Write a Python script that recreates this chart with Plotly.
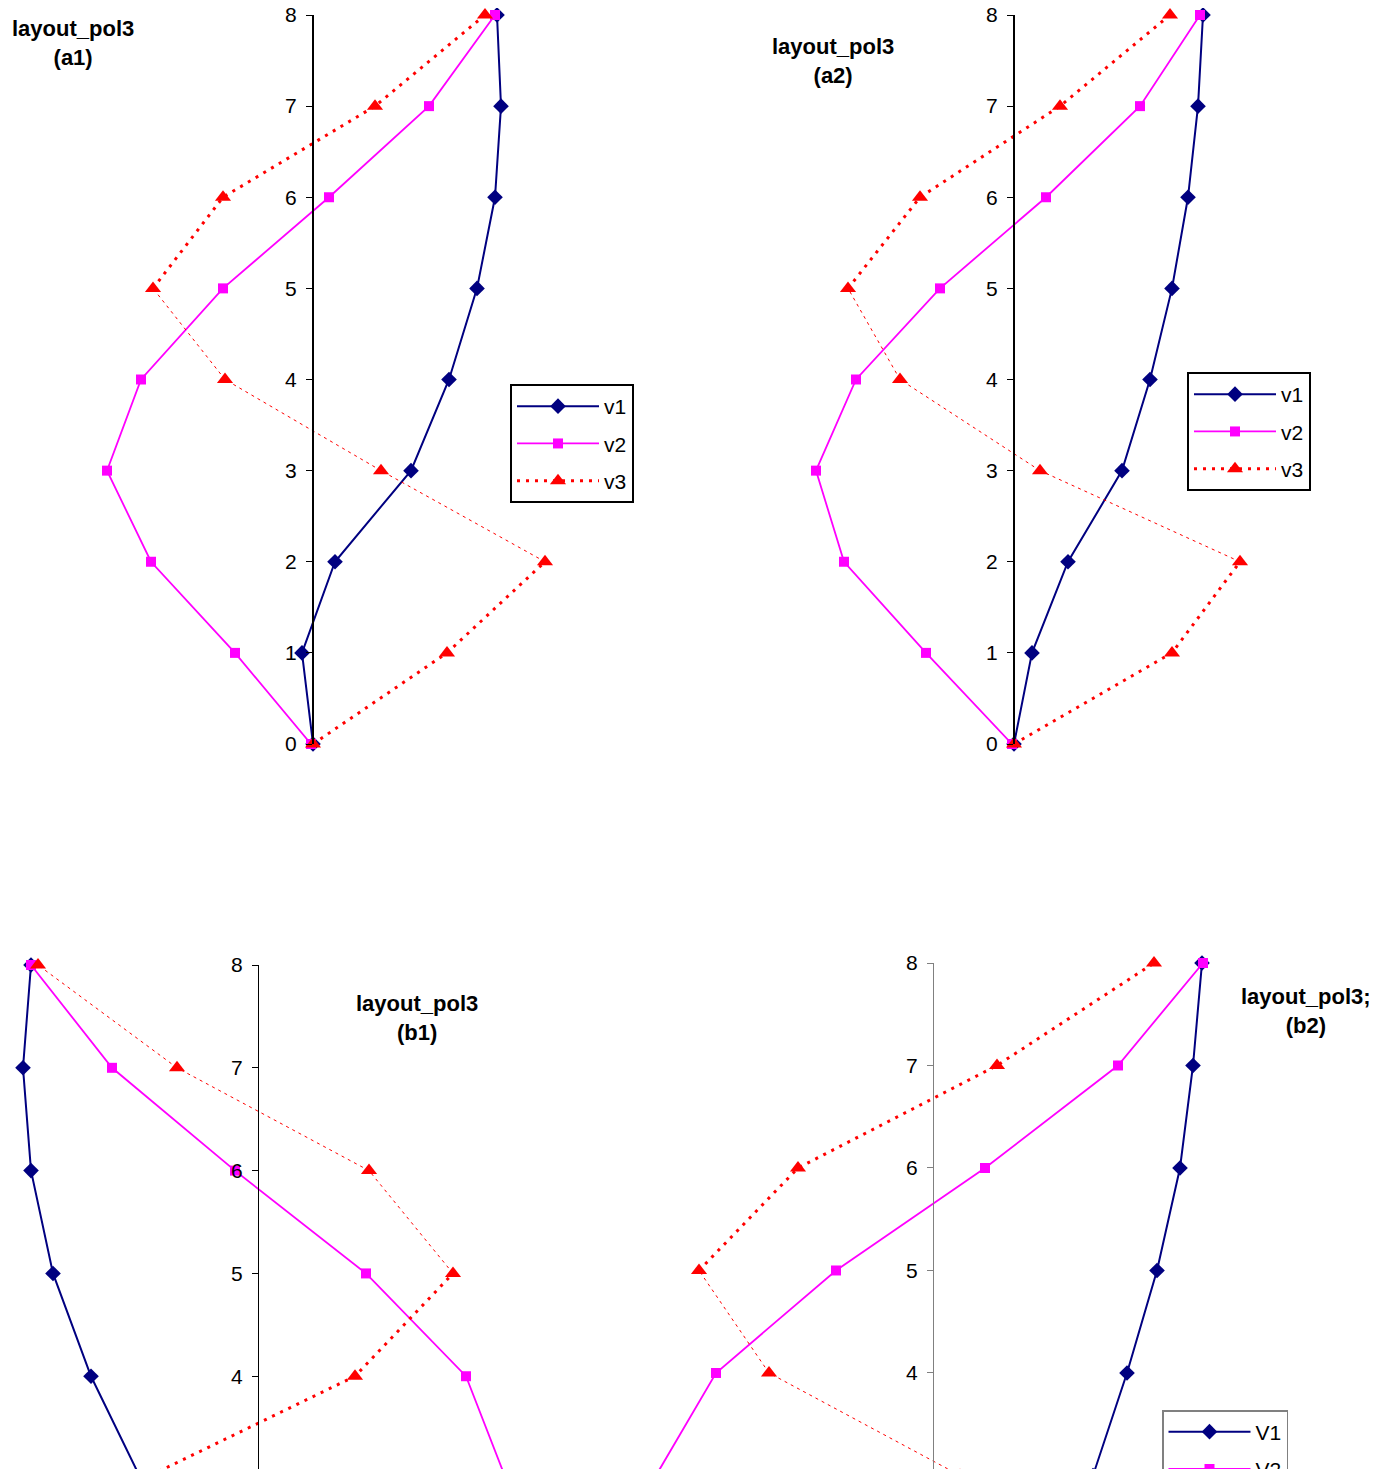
import plotly.graph_objects as go

# depth levels (vertical axis)
levels = [0, 1, 2, 3, 4, 5, 6, 7, 8]

# panel a1
a1_v1 = [0.00, -0.11, 0.22, 0.98, 1.36, 1.64, 1.82, 1.88, 1.84]
a1_v2 = [-0.02, -0.78, -1.62, -2.06, -1.72, -0.90, 0.16, 1.16, 1.82]
a1_v3 = [0.00, 1.34, 2.32, 0.68, -0.88, -1.60, -0.90, 0.62, 1.72]

# panel a2
a2_v1 = [0.00, 0.18, 0.54, 1.08, 1.36, 1.58, 1.74, 1.84, 1.89]
a2_v2 = [-0.02, -0.88, -1.70, -1.98, -1.58, -0.74, 0.32, 1.26, 1.86]
a2_v3 = [0.00, 1.58, 2.26, 0.26, -1.14, -1.66, -0.94, 0.46, 1.56]

# panel b1
b1_v1 = [0.00, -0.35, -0.80, -1.17, -1.67, -2.05, -2.27, -2.35, -2.27]
b1_v2 = [0.00, 1.20, 2.10, 2.48, 2.08, 1.08, -0.23, -1.46, -2.27]
b1_v3 = [0.00, -1.30, -2.00, -1.15, 0.97, 1.95, 1.11, -0.81, -2.20]

# panel b2
b2_v1 = [0.00, 0.45, 1.05, 1.60, 1.94, 2.24, 2.47, 2.60, 2.69]
b2_v2 = [0.00, -1.30, -2.45, -2.77, -2.17, -0.97, 0.52, 1.85, 2.70]
b2_v3 = [0.00, 1.60, 2.40, 0.27, -1.64, -2.34, -1.35, 0.64, 2.21]

series_names = ["v1", "v2", "v3"]
series_names_b2 = ["V1", "V2", "V3"]

W, H = 1377, 1469
OFF = 8  # page body margin
FONT = "Liberation Sans, Arial, sans-serif"


def fx(p):
    return (p - OFF) / W


def fy(p):
    return 1 - (p - OFF) / H


# per panel: data, axis pixel column, y domain, y range, thin segments of v3, legend
panels = [
    dict(s=(a1_v1, a1_v2, a1_v3), axpx=313, dom=[fy(744), fy(15)], rng=[0, 8],
         thin=[2, 3, 4], legend="legend", names=series_names, lw=2, lc="black"),
    dict(s=(a2_v1, a2_v2, a2_v3), axpx=1014, dom=[fy(744), fy(15)], rng=[0, 8],
         thin=[2, 3, 4], legend="legend2", names=series_names, lw=2, lc="black"),
    dict(s=(b1_v1, b1_v2, b1_v3), axpx=258, dom=[0, fy(965)], rng=[3.02, 8],
         thin=[5, 6, 7], legend=None, names=series_names, lw=1, lc="black"),
    dict(s=(b2_v1, b2_v2, b2_v3), axpx=933, dom=[0, fy(963)], rng=[2.985, 8],
         thin=[3, 4], legend="legend3", names=series_names_b2, lw=1, lc="#808080"),
]

fig = go.Figure()

for k, p in enumerate(panels):
    n = "" if k == 0 else str(k + 1)
    xa, ya = "x" + n, "y" + n
    v1, v2, v3 = p["s"]
    show = p["legend"] is not None
    leg = p["legend"] or "legend"

    fig.add_trace(go.Scatter(
        x=v1, y=levels, xaxis=xa, yaxis=ya, name=p["names"][0], mode="lines+markers",
        line=dict(color="#000080", width=2),
        marker=dict(symbol="diamond", size=12, color="#000080"),
        showlegend=show, legend=leg, legendgroup=f"{k}a", cliponaxis=False))
    fig.add_trace(go.Scatter(
        x=v2, y=levels, xaxis=xa, yaxis=ya, name=p["names"][1], mode="lines+markers",
        line=dict(color="#FF00FF", width=1.8),
        marker=dict(symbol="square", size=10, color="#FF00FF"),
        showlegend=show, legend=leg, legendgroup=f"{k}b", cliponaxis=False))

    # thin dashed pieces of v3
    tx, ty = [], []
    for i in p["thin"]:
        tx += [v3[i], v3[i + 1], None]
        ty += [levels[i], levels[i + 1], None]
    fig.add_trace(go.Scatter(
        x=tx, y=ty, xaxis=xa, yaxis=ya, mode="lines", showlegend=False,
        line=dict(color="#FF0000", width=1, dash="3px,4px"), hoverinfo="skip"))

    # dotted pieces of v3 (broken where thin)
    dx, dy = [v3[0]], [levels[0]]
    for i in range(len(levels) - 1):
        if i in p["thin"]:
            dx.append(None)
            dy.append(None)
        dx.append(v3[i + 1])
        dy.append(levels[i + 1])
    fig.add_trace(go.Scatter(
        x=dx, y=dy, xaxis=xa, yaxis=ya, name=p["names"][2], mode="lines+markers",
        line=dict(color="#FF0000", width=3, dash="3px,6px"),
        marker=dict(symbol="triangle-up", size=14, color="#FF0000"),
        showlegend=show, legend=leg, legendgroup=f"{k}c", cliponaxis=False))

    ax = p["axpx"] - OFF
    fig.update_layout(**{
        "xaxis" + n: dict(domain=[0, 1], range=[-ax / 100, (W - ax) / 100],
                          visible=False, anchor=ya),
        "yaxis" + n: dict(domain=p["dom"], range=p["rng"], anchor="free",
                          position=ax / W, showgrid=False, zeroline=False,
                          showline=True, linecolor=p["lc"], linewidth=p["lw"],
                          ticks="outside", ticklen=6, tickwidth=1, tickcolor=p["lc"],
                          ticklabelstandoff=5, automargin=False,
                          ticklabeloverflow="allow",
                          dtick=1, tick0=0,
                          tickfont=dict(size=21, color="black", family=FONT)),
    })

leg_style = dict(bgcolor="white", borderwidth=2, bordercolor="black",
                 font=dict(size=21, color="black", family=FONT),
                 itemwidth=82, tracegroupgap=7, xanchor="left", yanchor="top")

fig.update_layout(
    width=W, height=H,
    margin=dict(l=0, r=0, t=0, b=0, autoexpand=False),
    paper_bgcolor="white", plot_bgcolor="rgba(0,0,0,0)",
    font=dict(family=FONT, color="black"),
    legend=dict(leg_style, x=fx(510), y=fy(384)),
    legend2=dict(leg_style, x=fx(1187), y=fy(372)),
    legend3=dict(leg_style, x=fx(1162), y=fy(1410), bordercolor="#808080", borderwidth=1.5),
    annotations=[
        dict(text="<b>layout_pol3<br>(a1)</b>", x=fx(73), y=fy(43.5)),
        dict(text="<b>layout_pol3<br>(a2)</b>", x=fx(833), y=fy(61.5)),
        dict(text="<b>layout_pol3<br>(b1)</b>", x=fx(417), y=fy(1017.5)),
        dict(text="<b>layout_pol3;<br>(b2)</b>", x=fx(1306), y=fy(1011)),
    ],
    shapes=[dict(type="rect", xref="paper", yref="paper", x0=fx(637), x1=fx(667),
                 y0=fy(7), y1=fy(2), fillcolor="black", line=dict(width=0))],
)
fig.update_annotations(xref="paper", yref="paper", showarrow=False,
                       xanchor="center", yanchor="middle",
                       font=dict(size=22, color="black", family=FONT))

fig.write_html("out.html")
